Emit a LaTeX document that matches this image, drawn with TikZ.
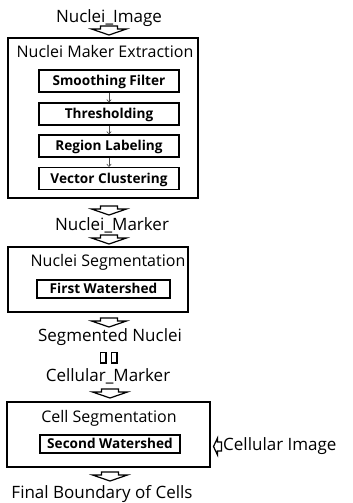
\documentclass[tikz,border=0pt]{standalone}
\usepackage{fontspec}
\setmainfont{Open Sans}
\usetikzlibrary{arrows.meta}

\tikzset{
  groupbox/.style={draw, line width=1.1pt, inner sep=0pt},
  stagebox/.style={draw, line width=1.4pt, inner sep=0pt, minimum width=140pt,
    minimum height=22pt, font=\fontsize{13.6}{15}\selectfont\bfseries,
    text height=9.6pt, text depth=0pt},
  flowlabel/.style={anchor=base, inner sep=0pt, font=\fontsize{17}{20}\selectfont},
  grouptitle/.style={anchor=base, inner sep=0pt, font=\fontsize{16}{19}\selectfont},
  thinarrow/.style={-{To[length=3pt,width=5pt]}, line width=0.6pt, draw=black!70},
  bar/.style={draw, line width=1.5pt, minimum width=5.5pt, minimum height=10.5pt, inner sep=0pt},
  downarr/.pic={\draw[line width=1.2pt] (-8.5,0) -- (8.5,0) -- (8.5,3) -- (17.5,3)
    -- (0,9) -- (-17.5,3) -- (-8.5,3) -- cycle;},
  leftarr/.pic={\draw[line width=1.2pt] (0,-4.5) -- (-4,-4.5) -- (-4,-8.5) -- (-8,0)
    -- (-4,8.5) -- (-4,4.5) -- (0,4.5) -- cycle;}
}

\begin{document}
\begin{tikzpicture}[x=1pt, y=-1pt]
  \useasboundingbox (0,0) rectangle (353,503);

  % input
  \node[flowlabel] (img) at (109,22.7) {Nuclei\_Image};
  \coordinate (a1) at (109,26);
  \pic at (a1) {downarr};

  % nuclei marker extraction
  \node[groupbox, minimum width=190pt, minimum height=160pt] (ext) at (103,118) {};
  \node[grouptitle] (extTitle) at (105,57) {Nuclei Maker Extraction};
  \node[stagebox] (smooth) at (109,81) {Smoothing Filter};
  \node[stagebox] (thresh) at (109,114) {Thresholding};
  \node[stagebox] (regLabel) at (109,146) {Region Labeling};
  \node[stagebox] (vector) at (109,178.5) {Vector Clustering};
  \draw[thinarrow] (smooth) -- (thresh);
  \draw[thinarrow] (thresh) -- (regLabel);
  \draw[thinarrow] (regLabel) -- (vector);

  \coordinate (a2) at (109,206);
  \pic at (a2) {downarr};
  \node[flowlabel] (marker) at (112,230.7) {Nuclei\_Marker};
  \coordinate (a3) at (109,235);
  \pic at (a3) {downarr};

  % nuclei segmentation
  \node[groupbox, minimum width=180pt, minimum height=65pt] (seg) at (98,279.5) {};
  \node[grouptitle] (segTitle) at (108,266) {Nuclei Segmentation};
  \node[stagebox, minimum width=133pt, minimum height=18pt] (first) at (103.5,289) {First Watershed};

  \coordinate (a4) at (109,318);
  \pic at (a4) {downarr};
  \node[flowlabel] (segNuc) at (110,341) {Segmented Nuclei};
  \node[bar] (bar1) at (103,357.5) {};
  \node[bar] (bar2) at (114,357.5) {};
  \node[flowlabel] (cellMark) at (108,381.7) {Cellular\_Marker};
  \coordinate (a5) at (110,389);
  \pic at (a5) {downarr};

  % cell segmentation
  \node[groupbox, minimum width=203pt, minimum height=65pt] (cellSeg) at (108.5,434.5) {};
  \node[grouptitle] (cellTitle) at (109,422) {Cell Segmentation};
  \node[stagebox, minimum height=18pt] (second) at (110,444) {Second Watershed};
  \coordinate (a7) at (221.5,446.5);
  \pic at (a7) {leftarr};
  \node[flowlabel, anchor=base west] (cellImg) at (223,450.5) {Cellular Image};

  \coordinate (a6) at (110,472);
  \pic at (a6) {downarr};
  \node[flowlabel] (final) at (102,498) {Final Boundary of Cells};
\end{tikzpicture}
\end{document}
